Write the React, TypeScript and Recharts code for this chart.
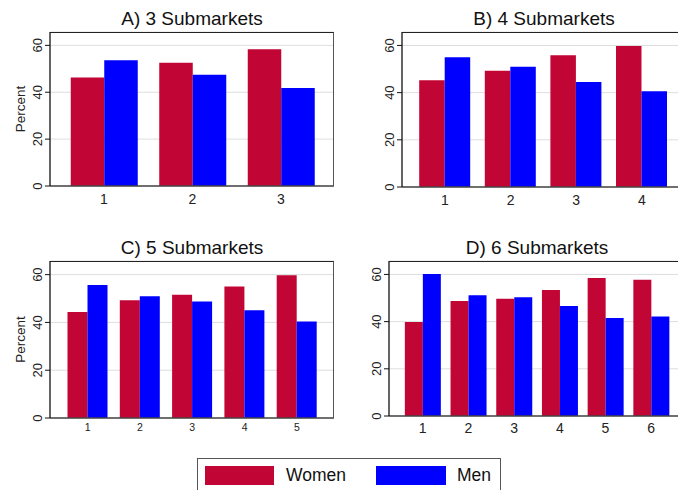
import React from 'react';
import { BarChart, Bar, XAxis, YAxis, CartesianGrid } from 'recharts';

// values (percent)
const cats3 = ['1', '2', '3'];
const women3 = [46.3, 52.6, 58.3];
const men3 = [53.6, 47.5, 41.8];

const cats4 = ['1', '2', '3', '4'];
const women4 = [45.2, 49.3, 55.8, 59.8];
const men4 = [55.0, 51.0, 44.5, 40.6];

const cats5 = ['1', '2', '3', '4', '5'];
const women5 = [44.4, 49.3, 51.6, 55.0, 59.7];
const men5 = [55.7, 50.9, 48.7, 45.1, 40.4];

const cats6 = ['1', '2', '3', '4', '5', '6'];
const women6 = [39.8, 48.7, 49.7, 53.4, 58.5, 57.8];
const men6 = [60.2, 51.2, 50.3, 46.6, 41.5, 42.2];

const yTicks = [0, 20, 40, 60];

const WOMEN = '#C10534';
const MEN = '#0000FF';
const FONT = '"Liberation Sans", Arial, Helvetica, sans-serif';

type PanelProps = {
  title: string;
  cats: string[];
  women: number[];
  men: number[];
  left: number;
  right: number;
  top: number;
  bottom: number;
  padL: number;
  padR: number;
  barSize: number;
  xFont: number;
  xMargin: number;
  showLabel?: boolean;
};

const YTick = (props: any) => {
  const { x, y, payload } = props;
  return (
    <text
      x={x}
      y={y}
      transform={`rotate(-90 ${x} ${y})`}
      textAnchor="middle"
      fontSize={13}
      fontFamily={FONT}
      fill="#222"
    >
      {payload.value}
    </text>
  );
};

function Panel(p: PanelProps) {
  const data = p.cats.map((c, i) => ({ name: c, women: p.women[i], men: p.men[i] }));
  const yw = 50;
  const plotW = p.right - p.left;
  const plotH = p.bottom - p.top;
  return (
    <>
      <div
        style={{
          position: 'absolute',
          left: p.left,
          width: plotW,
          top: p.top - 24,
          lineHeight: '22px',
          textAlign: 'center',
          fontFamily: FONT,
          fontSize: 19,
          color: '#111',
        }}
      >
        {p.title}
      </div>
      <BarChart
        width={plotW + yw + 2}
        height={plotH + 32}
        data={data}
        margin={{ top: 2, right: 2, bottom: 0, left: 0 }}
        barGap={0}
        barSize={p.barSize}
        style={{ position: 'absolute', left: p.left - yw, top: p.top - 2 }}
      >
        <CartesianGrid vertical={false} stroke="#dedede" strokeWidth={1} />
        <XAxis
          dataKey="name"
          height={30}
          tickLine={false}
          tickSize={0}
          tickMargin={p.xMargin}
          padding={{ left: p.padL, right: p.padR }}
          axisLine={{ stroke: '#444', strokeWidth: 1.5 }}
          tick={{ fontSize: p.xFont, fill: '#222', fontFamily: FONT }}
        />
        <YAxis
          width={yw}
          domain={[0, 65.7]}
          ticks={yTicks}
          allowDataOverflow
          tickSize={5}
          tickMargin={3}
          axisLine={{ stroke: '#111', strokeWidth: 1.3 }}
          tickLine={{ stroke: '#111' }}
          tick={<YTick />}
          label={
            p.showLabel
              ? {
                  value: 'Percent',
                  angle: -90,
                  position: 'center',
                  dx: -5,
                  style: { fontSize: 13.5, fill: '#222', fontFamily: FONT },
                }
              : undefined
          }
        />
        <Bar dataKey="women" fill={WOMEN} isAnimationActive={false} />
        <Bar dataKey="men" fill={MEN} isAnimationActive={false} />
      </BarChart>
      <div
        style={{
          position: 'absolute',
          left: p.left,
          top: p.top,
          width: plotW,
          height: plotH,
          borderTop: '1px solid #222',
          borderRight: '1.5px solid #555',
          boxSizing: 'border-box',
          pointerEvents: 'none',
        }}
      />
    </>
  );
}

export default function App() {
  return (
    <div
      style={{
        position: 'fixed',
        left: 0,
        top: 0,
        width: 678,
        height: 490,
        overflow: 'hidden',
        background: '#fff',
      }}
    >
      <Panel
        title="A) 3 Submarkets"
        cats={cats3}
        women={women3}
        men={men3}
        left={50}
        right={334}
        top={32}
        bottom={186}
        padL={9.75}
        padR={8.75}
        barSize={33.5}
        xFont={14}
        xMargin={8}
        showLabel
      />
      <Panel
        title="B) 4 Submarkets"
        cats={cats4}
        women={women4}
        men={men4}
        left={402}
        right={686}
        top={32}
        bottom={187}
        padL={10.2}
        padR={11.4}
        barSize={25.5}
        xFont={14}
        xMargin={8}
      />
      <Panel
        title="C) 5 Submarkets"
        cats={cats5}
        women={women5}
        men={men5}
        left={50}
        right={334}
        top={261}
        bottom={418}
        padL={11.5}
        padR={11}
        barSize={20}
        xFont={10.5}
        xMargin={6}
        showLabel
      />
      <Panel
        title="D) 6 Submarkets"
        cats={cats6}
        women={women6}
        men={men6}
        left={389}
        right={685}
        top={261}
        bottom={416}
        padL={10.85}
        padR={10.95}
        barSize={18}
        xFont={14}
        xMargin={7}
      />
      <div
        style={{
          position: 'absolute',
          left: 197,
          top: 458,
          width: 304,
          height: 40,
          border: '1px solid #555',
          boxSizing: 'border-box',
          fontFamily: FONT,
          fontSize: 17.5,
          color: '#111',
        }}
      >
        <div style={{ position: 'absolute', left: 7, top: 7, width: 69, height: 18.5, background: WOMEN }} />
        <div style={{ position: 'absolute', left: 88, top: 5, lineHeight: '22px' }}>Women</div>
        <div style={{ position: 'absolute', left: 178, top: 7, width: 70, height: 18.5, background: MEN }} />
        <div style={{ position: 'absolute', left: 259, top: 5, lineHeight: '22px' }}>Men</div>
      </div>
    </div>
  );
}
